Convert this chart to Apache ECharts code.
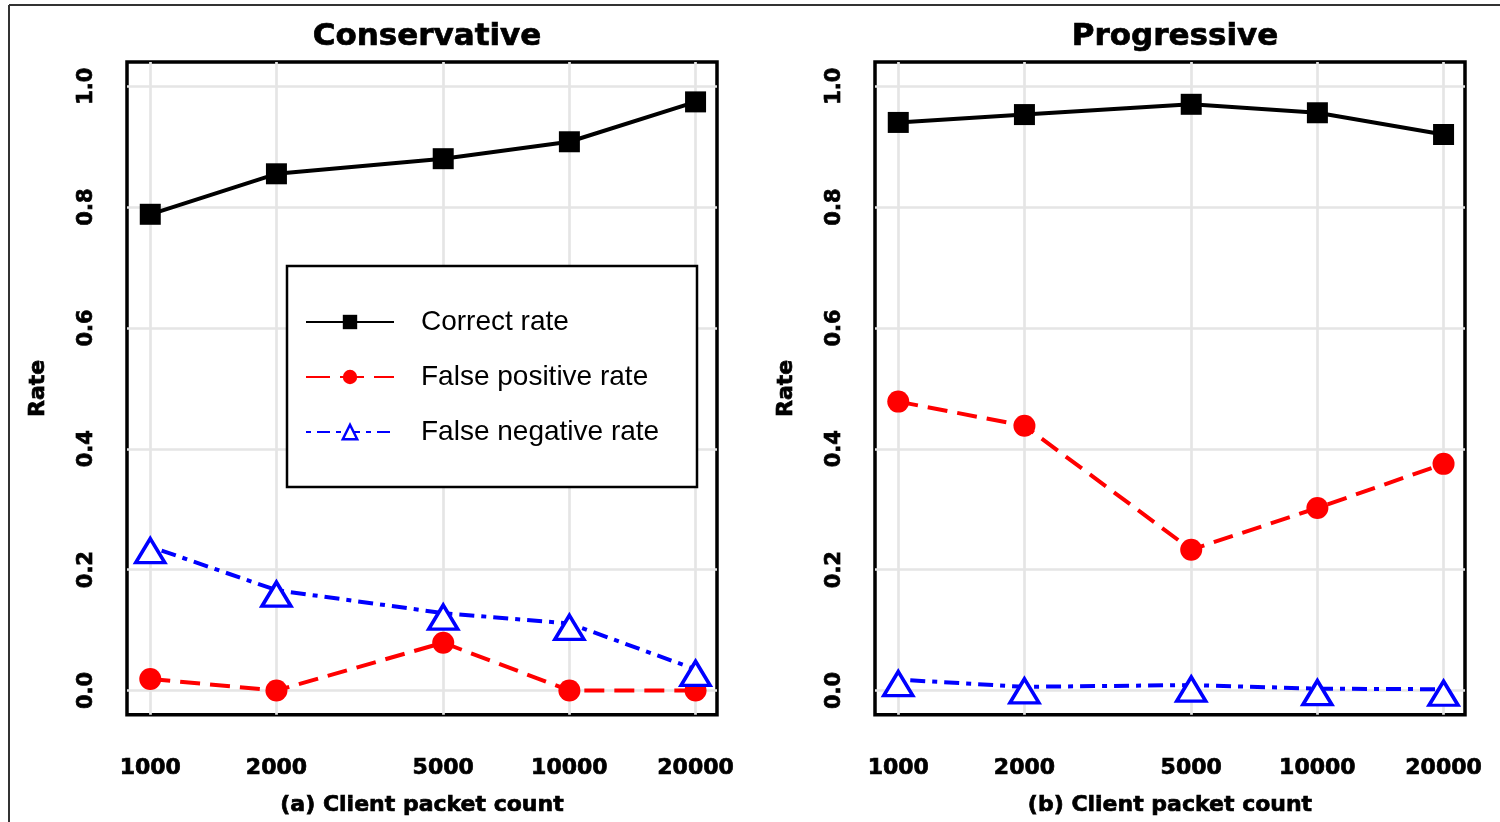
<!DOCTYPE html>
<html>
<head>
<meta charset="utf-8">
<script src="https://cdn.jsdelivr.net/npm/echarts@6/dist/echarts.min.js"></script>
<style>
  html, body { margin: 0; padding: 0; background: #fff; }
  #chart { width: 1500px; height: 822px; }
</style>
</head>
<body>
<div id="chart"></div>
<script>
// Client packet counts on the (log-scaled) x axis
const packetCounts = [1000, 2000, 5000, 10000, 20000];
const xTickValues = [1000, 2000, 5000, 10000, 20000];
const yTickValues = [0, 0.2, 0.4, 0.6, 0.8, 1.0];

const panelTitles = ['Conservative', 'Progressive'];
const axisTitles = ['(a) Client packet count', '(b) Client packet count'];
const seriesNames = ['Correct rate', 'False positive rate', 'False negative rate'];

// Conservative detection
const conservativeCorrect = [0.788, 0.855, 0.880, 0.908, 0.974];
const conservativeFalsePos = [0.019, 0.0, 0.079, 0.0, 0.0];
const conservativeFalseNeg = [0.238, 0.166, 0.128, 0.111, 0.035];

// Progressive detection
const progressiveCorrect = [0.940, 0.953, 0.970, 0.956, 0.920];
const progressiveFalsePos = [0.478, 0.438, 0.233, 0.302, 0.375];
const progressiveFalseNeg = [0.018, 0.006, 0.009, 0.003, 0.002];

const BOLD = 'DejaVu Sans';
const GRID_GRAY = '#e5e5e5';
// heavy bold text: bold face plus a thin same-colour outline
const heavy = { fontFamily: BOLD, fontWeight: 'bold', color: '#000', textBorderColor: '#000', textBorderWidth: 0.7 };

function pairs(values) {
  return packetCounts.map((x, i) => [x, values[i]]);
}

const styles = [
  {
    symbol: 'rect', symbolSize: 21, symbolOffset: [0, 0],
    itemStyle: { color: '#000' },
    lineStyle: { color: '#000', width: 4, type: 'solid' }
  },
  {
    symbol: 'circle', symbolSize: 22, symbolOffset: [0, 0],
    itemStyle: { color: '#ff0000' },
    lineStyle: { color: '#ff0000', width: 4, type: [20, 10] }
  },
  {
    symbol: 'triangle', symbolSize: [29, 24], symbolOffset: [0, 4],
    itemStyle: { color: '#ffffff', borderColor: '#0000ff', borderWidth: 3.5 },
    lineStyle: { color: '#0000ff', width: 4, type: [5, 7, 15, 7] }
  }
];

function makeSeries(panel, values) {
  return values.map((v, k) => ({
    name: seriesNames[k],
    type: 'line',
    xAxisIndex: panel,
    yAxisIndex: panel,
    data: pairs(v),
    symbol: styles[k].symbol,
    symbolSize: styles[k].symbolSize,
    symbolOffset: styles[k].symbolOffset,
    showSymbol: true,
    itemStyle: styles[k].itemStyle,
    lineStyle: styles[k].lineStyle,
    emphasis: { disabled: true },
    z: 3 + k
  }));
}

const gridLefts = [127, 875];

function makeXAxis(i) {
  return {
    type: 'log',
    logBase: 10,
    gridIndex: i,
    min: 880,
    max: 22500,
    name: axisTitles[i],
    nameLocation: 'middle',
    nameGap: 80,
    nameTextStyle: Object.assign({ fontSize: 22 }, heavy),
    axisLine: { show: false },
    axisTick: { show: false, customValues: xTickValues },
    axisLabel: Object.assign({
      customValues: xTickValues,
      margin: 43,
      fontSize: 22,
      formatter: v => String(Math.round(v))
    }, heavy),
    splitLine: { show: true, lineStyle: { color: GRID_GRAY, width: 2.7 } }
  };
}

function makeYAxis(i) {
  return {
    type: 'value',
    gridIndex: i,
    min: -0.04,
    max: 1.04,
    name: 'Rate',
    nameLocation: 'middle',
    nameGap: 78,
    nameTextStyle: Object.assign({ fontSize: 22 }, heavy),
    axisLine: { show: false },
    axisTick: { show: false, customValues: yTickValues },
    axisLabel: Object.assign({
      customValues: yTickValues,
      rotate: 90,
      margin: 30,
      fontSize: 21,
      formatter: v => v.toFixed(1)
    }, heavy),
    splitLine: { show: true, lineStyle: { color: GRID_GRAY, width: 2.7 } }
  };
}

const option = {
  animation: false,
  backgroundColor: '#fff',
  title: panelTitles.map((t, i) => ({
    text: t,
    left: gridLefts[i] + 295,
    top: 16,
    textAlign: 'center',
    textStyle: Object.assign({ fontSize: 31 }, heavy)
  })),
  grid: gridLefts.map(l => ({
    left: l, top: 62, width: 590, height: 653,
    show: true, borderColor: '#000', borderWidth: 3.5, backgroundColor: 'transparent'
  })),
  xAxis: [makeXAxis(0), makeXAxis(1)],
  yAxis: [makeYAxis(0), makeYAxis(1)],
  legend: {
    left: 305,
    top: 308,
    padding: 0,
    orient: 'vertical',
    itemWidth: 88,
    itemHeight: 18,
    itemGap: 27,
    selectedMode: false,
    z: 100,
    textStyle: {
      fontFamily: 'Liberation Sans', fontSize: 28, color: '#000',
      lineHeight: 28, padding: [0, 0, 0, 22]
    },
    data: [
      {
        name: seriesNames[0],
        itemStyle: { color: '#000', borderWidth: 0 },
        lineStyle: { color: '#000', width: 2, type: 'solid' }
      },
      {
        name: seriesNames[1],
        itemStyle: { color: '#ff0000', borderWidth: 0 },
        lineStyle: { color: '#ff0000', width: 2, type: [24, 10] }
      },
      {
        name: seriesNames[2],
        itemStyle: { color: '#ffffff', borderColor: '#0000ff', borderWidth: 2.5 },
        lineStyle: { color: '#0000ff', width: 2, type: [5, 6, 13, 6] }
      }
    ]
  },
  graphic: [
    // outer figure frame (top and left edges)
    { type: 'line', z: 0, shape: { x1: 9, y1: 5, x2: 1500, y2: 5 }, style: { stroke: '#333', lineWidth: 2 } },
    { type: 'line', z: 0, shape: { x1: 9, y1: 5, x2: 9, y2: 822 }, style: { stroke: '#333', lineWidth: 2 } },
    // legend box
    { type: 'rect', z: 50, shape: { x: 287, y: 266, width: 410, height: 221 },
      style: { fill: '#fff', stroke: '#000', lineWidth: 2.5 } }
  ],
  series: [
    ...makeSeries(0, [conservativeCorrect, conservativeFalsePos, conservativeFalseNeg]),
    ...makeSeries(1, [progressiveCorrect, progressiveFalsePos, progressiveFalseNeg])
  ]
};

const chart = echarts.init(document.getElementById('chart'), null, { renderer: 'canvas' });
chart.setOption(option);
</script>
</body>
</html>
